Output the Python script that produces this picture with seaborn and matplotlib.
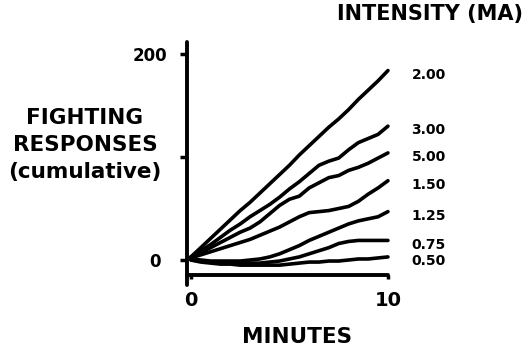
import matplotlib
matplotlib.use("Agg")
import matplotlib.pyplot as plt
import seaborn as sns
import pandas as pd

# ---- data ----
minutes = [0, 0.5, 1, 1.5, 2, 2.5, 3, 3.5, 4, 4.5, 5, 5.5, 6, 6.5, 7, 7.5, 8, 8.5, 9, 9.5, 10]
intensities = ["2.00", "3.00", "5.00", "1.50", "1.25", "0.75", "0.50"]
resp_200 = [3, 12, 21, 30, 39, 48, 56, 65, 74, 83, 92, 102, 111, 120, 129, 137, 146, 156, 165, 174, 184]
resp_300 = [3, 9, 15, 22, 29, 35, 42, 48, 54, 61, 69, 76, 84, 92, 96, 99, 107, 114, 118, 122, 130]
resp_500 = [3, 7, 12, 17, 22, 27, 31, 37, 45, 53, 59, 62, 70, 75, 80, 82, 87, 90, 94, 99, 104]
resp_150 = [2, 5, 8, 11, 14, 17, 20, 24, 28, 32, 37, 42, 46, 47, 48, 50, 52, 57, 64, 70, 77]
resp_125 = [1, 0, -1, -1, -1, -1, 0, 1, 3, 6, 10, 14, 19, 23, 27, 31, 35, 38, 40, 42, 47]
resp_075 = [0, -1, -2, -2, -3, -3, -3, -3, -2, -1, 1, 3, 6, 9, 12, 16, 18, 19, 19, 19, 19]
resp_050 = [0, -2, -3, -4, -4, -5, -5, -5, -5, -5, -4, -3, -2, -2, -1, -1, 0, 1, 1, 2, 3]
series = [resp_200, resp_300, resp_500, resp_150, resp_125, resp_075, resp_050]
y_ticks = [0, 100, 200]
y_ticklabels = ["0 ", "", "200"]
x_ticks = [0, 10]
x_ticklabels = ["0", "10"]

rows = []
for lab, vals in zip(intensities, series):
    for m, v in zip(minutes, vals):
        rows.append({"minutes": m, "responses": v, "intensity": lab})
df = pd.DataFrame(rows)

sns.set_style("white")
plt.rcParams["font.family"] = ["DejaVu Sans"]
plt.rcParams["font.weight"] = "bold"
plt.rcParams["text.color"] = "black"
plt.rcParams["axes.labelcolor"] = "black"
plt.rcParams["xtick.color"] = "black"
plt.rcParams["ytick.color"] = "black"

fig = plt.figure(figsize=(5.28, 3.49), dpi=100)
ax = fig.add_axes([0.3542, 0.1842, 0.3992, 0.6963])

sns.lineplot(data=df, x="minutes", y="responses", hue="intensity",
             palette={k: "black" for k in intensities}, legend=False,
             estimator=None, sort=False, linewidth=2.6, ax=ax)
for ln in ax.lines:
    ln.set_solid_capstyle("round")
    ln.set_solid_joinstyle("round")

ax.set_xlim(-0.2, 10.5)
ax.set_ylim(-24, 212)

for s in ["top", "right"]:
    ax.spines[s].set_visible(False)
ax.spines["left"].set_linewidth(2.8)
ax.spines["left"].set_color("black")
ax.spines["left"].set_capstyle("round")
ax.spines["bottom"].set_position(("data", -15))
ax.spines["bottom"].set_bounds(-0.2, 10)
ax.spines["bottom"].set_linewidth(2.8)
ax.spines["bottom"].set_color("black")
ax.spines["bottom"].set_capstyle("round")

ax.set_xticks(x_ticks)
ax.set_xticklabels(x_ticklabels)
ax.set_yticks(y_ticks)
ax.set_yticklabels(y_ticklabels)
ax.tick_params(axis="x", direction="out", length=3, width=2.5, pad=8,
               labelsize=14, colors="black", bottom=True)
ax.tick_params(axis="y", direction="out", length=5, width=2.5, pad=9,
               labelsize=12, colors="black", left=True)
for t in ax.get_xticklabels() + ax.get_yticklabels():
    t.set_fontweight("bold")

# series labels at the right end
for lab, vals in zip(intensities, series):
    ax.text(11.2, vals[-1] - 4, lab, fontsize=10, fontweight="bold",
            ha="left", va="center", color="black")

ax.set_xlabel("MINUTES", fontsize=15.5, fontweight="bold", va="center",
              color="black")
ax.xaxis.set_label_coords(0.522, -0.215)
ax.set_ylabel("FIGHTING\nRESPONSES\n(cumulative)", fontsize=15.5,
              fontweight="bold", rotation=0, ha="center", va="center",
              linespacing=1.45, color="black")
ax.yaxis.set_label_coords(-0.484, 0.575)

fig.text(0.815, 0.96, "INTENSITY (MA)", fontsize=15, fontweight="bold",
         ha="center", va="center", color="black")

fig.savefig("out.png", dpi=100)
